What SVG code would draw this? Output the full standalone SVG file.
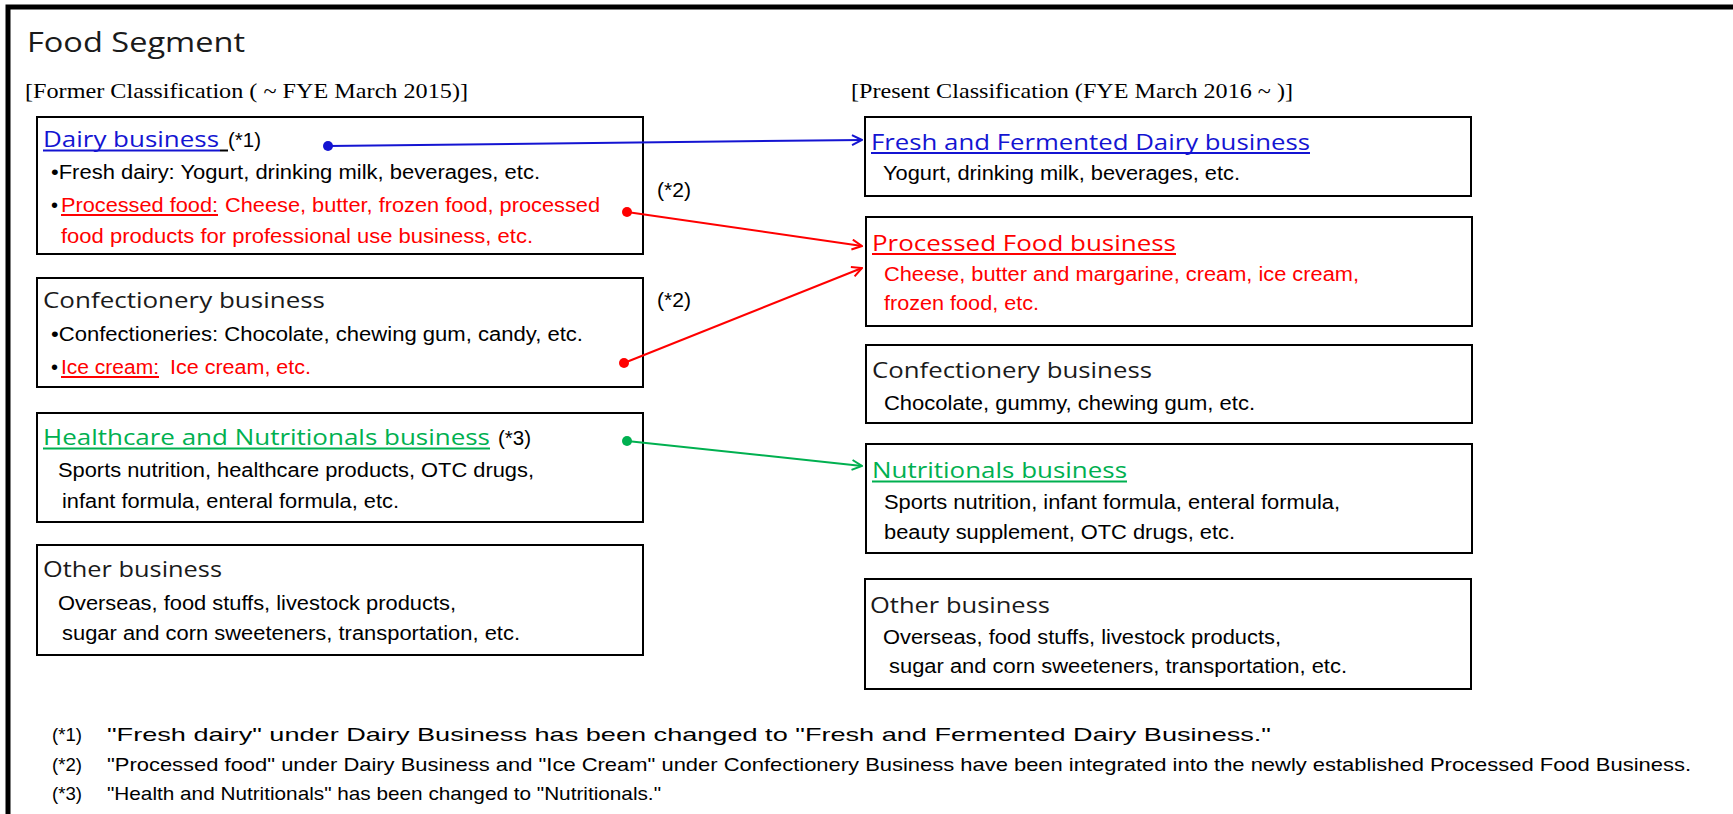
<svg xmlns="http://www.w3.org/2000/svg" width="1733" height="814" viewBox="0 0 1733 814">
<style>
.box{fill:#fff;stroke:#000;stroke-width:2}
.hd{font-family:"Open Sans","DejaVu Sans",sans-serif;font-size:21px;fill:#1a1a1a}
.tx{font-family:"Liberation Sans",Arial,sans-serif;font-size:20px;fill:#000}
.sf{font-family:"Liberation Serif","Times New Roman",serif;font-size:22px;fill:#000}
.fn{font-family:"Liberation Sans",Arial,sans-serif;font-size:19px;fill:#000}
.blue{fill:#1414d2}
.red{fill:#ff0000}
.green{fill:#00b050}
.ul{stroke-width:2}
.con{fill:none;stroke-width:2}
</style>
<defs>
<marker id="ab" viewBox="0 0 12 12" refX="11" refY="6" markerWidth="12" markerHeight="12" markerUnits="userSpaceOnUse" orient="auto"><path d="M1,1 L11,6 L1,11" fill="none" stroke="#1414d2" stroke-width="2"/></marker>
<marker id="ar" viewBox="0 0 12 12" refX="11" refY="6" markerWidth="12" markerHeight="12" markerUnits="userSpaceOnUse" orient="auto"><path d="M1,1 L11,6 L1,11" fill="none" stroke="#ff0000" stroke-width="2"/></marker>
<marker id="ag" viewBox="0 0 12 12" refX="11" refY="6" markerWidth="12" markerHeight="12" markerUnits="userSpaceOnUse" orient="auto"><path d="M1,1 L11,6 L1,11" fill="none" stroke="#00b050" stroke-width="2"/></marker>
<marker id="db" viewBox="0 0 12 12" refX="6" refY="6" markerWidth="12" markerHeight="12" markerUnits="userSpaceOnUse"><circle cx="6" cy="6" r="5" fill="#1414d2"/></marker>
<marker id="dr" viewBox="0 0 12 12" refX="6" refY="6" markerWidth="12" markerHeight="12" markerUnits="userSpaceOnUse"><circle cx="6" cy="6" r="5" fill="#ff0000"/></marker>
<marker id="dg" viewBox="0 0 12 12" refX="6" refY="6" markerWidth="12" markerHeight="12" markerUnits="userSpaceOnUse"><circle cx="6" cy="6" r="5" fill="#00b050"/></marker>
</defs>
<rect width="1733" height="814" fill="#fff"/>
<rect x="8" y="7" width="1740" height="830" fill="none" stroke="#000" stroke-width="5"/>

<g id="headings">
<text class="hd" x="27" y="52" textLength="218" lengthAdjust="spacingAndGlyphs" style="font-size:27px">Food Segment</text>
<text class="sf" x="25" y="98" textLength="443" lengthAdjust="spacingAndGlyphs">[Former Classification ( ~ FYE March 2015)]</text>
<text class="sf" x="851" y="98" textLength="442" lengthAdjust="spacingAndGlyphs">[Present Classification (FYE March 2016 ~ )]</text>
</g>

<g id="old-dairy">
<rect class="box" x="37" y="117" width="606" height="137"/>
<text class="hd blue" x="43" y="147" textLength="176" lengthAdjust="spacingAndGlyphs">Dairy business</text>
<line x1="43" y1="150.5" x2="220" y2="150.5" stroke="#1414d2" class="ul"/>
<line x1="220" y1="150.5" x2="228" y2="150.5" stroke="#000" class="ul"/>
<text class="tx" x="228" y="147" textLength="33" lengthAdjust="spacingAndGlyphs">(*1)</text>
<text class="tx" x="51" y="179" textLength="489" lengthAdjust="spacingAndGlyphs">•Fresh dairy: Yogurt, drinking milk, beverages, etc.</text>
<text class="tx" x="51" y="212">•</text>
<text class="tx red" x="61" y="212" textLength="157" lengthAdjust="spacingAndGlyphs">Processed food:</text>
<line x1="61" y1="215" x2="218" y2="215" stroke="#ff0000" class="ul"/>
<text class="tx red" x="225" y="212" textLength="375" lengthAdjust="spacingAndGlyphs">Cheese, butter, frozen food, processed</text>
<text class="tx red" x="61" y="243" textLength="472" lengthAdjust="spacingAndGlyphs">food products for professional use business, etc.</text>
</g>

<g id="old-confectionery">
<rect class="box" x="37" y="278" width="606" height="109"/>
<text class="hd" x="43" y="308" textLength="282" lengthAdjust="spacingAndGlyphs">Confectionery business</text>
<text class="tx" x="51" y="341" textLength="532" lengthAdjust="spacingAndGlyphs">•Confectioneries: Chocolate, chewing gum, candy, etc.</text>
<text class="tx" x="51" y="374">•</text>
<text class="tx red" x="61" y="374" textLength="98" lengthAdjust="spacingAndGlyphs">Ice cream:</text>
<line x1="61" y1="377" x2="159" y2="377" stroke="#ff0000" class="ul"/>
<text class="tx red" x="170" y="374" textLength="141" lengthAdjust="spacingAndGlyphs">Ice cream, etc.</text>
</g>

<g id="old-healthcare">
<rect class="box" x="37" y="413" width="606" height="109"/>
<text class="hd green" x="43" y="445" textLength="447" lengthAdjust="spacingAndGlyphs">Healthcare and Nutritionals business</text>
<line x1="43" y1="448.5" x2="490" y2="448.5" stroke="#00b050" class="ul"/>
<text class="tx" x="498" y="445" textLength="33" lengthAdjust="spacingAndGlyphs">(*3)</text>
<text class="tx" x="58" y="477" textLength="476" lengthAdjust="spacingAndGlyphs">Sports nutrition, healthcare products, OTC drugs,</text>
<text class="tx" x="62" y="508" textLength="337" lengthAdjust="spacingAndGlyphs">infant formula, enteral formula, etc.</text>
</g>

<g id="old-other">
<rect class="box" x="37" y="545" width="606" height="110"/>
<text class="hd" x="43" y="577" textLength="179" lengthAdjust="spacingAndGlyphs">Other business</text>
<text class="tx" x="58" y="610" textLength="398" lengthAdjust="spacingAndGlyphs">Overseas, food stuffs, livestock products,</text>
<text class="tx" x="62" y="640" textLength="458" lengthAdjust="spacingAndGlyphs">sugar and corn sweeteners, transportation, etc.</text>
</g>

<g id="new-fresh">
<rect class="box" x="865" y="117" width="606" height="79"/>
<text class="hd blue" x="871" y="150" textLength="439" lengthAdjust="spacingAndGlyphs">Fresh and Fermented Dairy business</text>
<line x1="871" y1="153" x2="1310" y2="153" stroke="#1414d2" class="ul"/>
<text class="tx" x="883" y="180" textLength="357" lengthAdjust="spacingAndGlyphs">Yogurt, drinking milk, beverages, etc.</text>
</g>

<g id="new-processed">
<rect class="box" x="866" y="217" width="606" height="109"/>
<text class="hd red" x="872" y="251" textLength="304" lengthAdjust="spacingAndGlyphs">Processed Food business</text>
<line x1="872" y1="254" x2="1176" y2="254" stroke="#ff0000" class="ul"/>
<text class="tx red" x="884" y="281" textLength="475" lengthAdjust="spacingAndGlyphs">Cheese, butter and margarine, cream, ice cream,</text>
<text class="tx red" x="884" y="310" textLength="155" lengthAdjust="spacingAndGlyphs">frozen food, etc.</text>
</g>

<g id="new-confectionery">
<rect class="box" x="866" y="345" width="606" height="78"/>
<text class="hd" x="872" y="378" textLength="280" lengthAdjust="spacingAndGlyphs">Confectionery business</text>
<text class="tx" x="884" y="410" textLength="371" lengthAdjust="spacingAndGlyphs">Chocolate, gummy, chewing gum, etc.</text>
</g>

<g id="new-nutritionals">
<rect class="box" x="866" y="444" width="606" height="109"/>
<text class="hd green" x="872" y="478" textLength="255" lengthAdjust="spacingAndGlyphs">Nutritionals business</text>
<line x1="872" y1="481.5" x2="1127" y2="481.5" stroke="#00b050" class="ul"/>
<text class="tx" x="884" y="509" textLength="456" lengthAdjust="spacingAndGlyphs">Sports nutrition, infant formula, enteral formula,</text>
<text class="tx" x="884" y="539" textLength="351" lengthAdjust="spacingAndGlyphs">beauty supplement, OTC drugs, etc.</text>
</g>

<g id="new-other">
<rect class="box" x="865" y="579" width="606" height="110"/>
<text class="hd" x="870" y="613" textLength="180" lengthAdjust="spacingAndGlyphs">Other business</text>
<text class="tx" x="883" y="644" textLength="398" lengthAdjust="spacingAndGlyphs">Overseas, food stuffs, livestock products,</text>
<text class="tx" x="889" y="673" textLength="458" lengthAdjust="spacingAndGlyphs">sugar and corn sweeteners, transportation, etc.</text>
</g>

<g id="connectors">
<line class="con" x1="328" y1="146" x2="862" y2="140" stroke="#1414d2" marker-start="url(#db)" marker-end="url(#ab)"/>
<line class="con" x1="627" y1="212" x2="862" y2="246" stroke="#ff0000" marker-start="url(#dr)" marker-end="url(#ar)"/>
<line class="con" x1="624" y1="363" x2="862" y2="268" stroke="#ff0000" marker-start="url(#dr)" marker-end="url(#ar)"/>
<line class="con" x1="627" y1="441" x2="862" y2="466" stroke="#00b050" marker-start="url(#dg)" marker-end="url(#ag)"/>
<text class="tx" x="657" y="197" textLength="34" lengthAdjust="spacingAndGlyphs">(*2)</text>
<text class="tx" x="657" y="307" textLength="34" lengthAdjust="spacingAndGlyphs">(*2)</text>
</g>

<g id="footnotes">
<text class="fn" x="52" y="741" textLength="30" lengthAdjust="spacingAndGlyphs">(*1)</text>
<text class="fn" x="107" y="741" textLength="1164" lengthAdjust="spacingAndGlyphs">"Fresh dairy" under Dairy Business has been changed to "Fresh and Fermented Dairy Business."</text>
<text class="fn" x="52" y="771" textLength="30" lengthAdjust="spacingAndGlyphs">(*2)</text>
<text class="fn" x="107" y="771" textLength="1584" lengthAdjust="spacingAndGlyphs">"Processed food" under Dairy Business and "Ice Cream" under Confectionery Business have been integrated into the newly established Processed Food Business.</text>
<text class="fn" x="52" y="800" textLength="30" lengthAdjust="spacingAndGlyphs">(*3)</text>
<text class="fn" x="107" y="800" textLength="554" lengthAdjust="spacingAndGlyphs">"Health and Nutritionals" has been changed to "Nutritionals."</text>
</g>
</svg>
